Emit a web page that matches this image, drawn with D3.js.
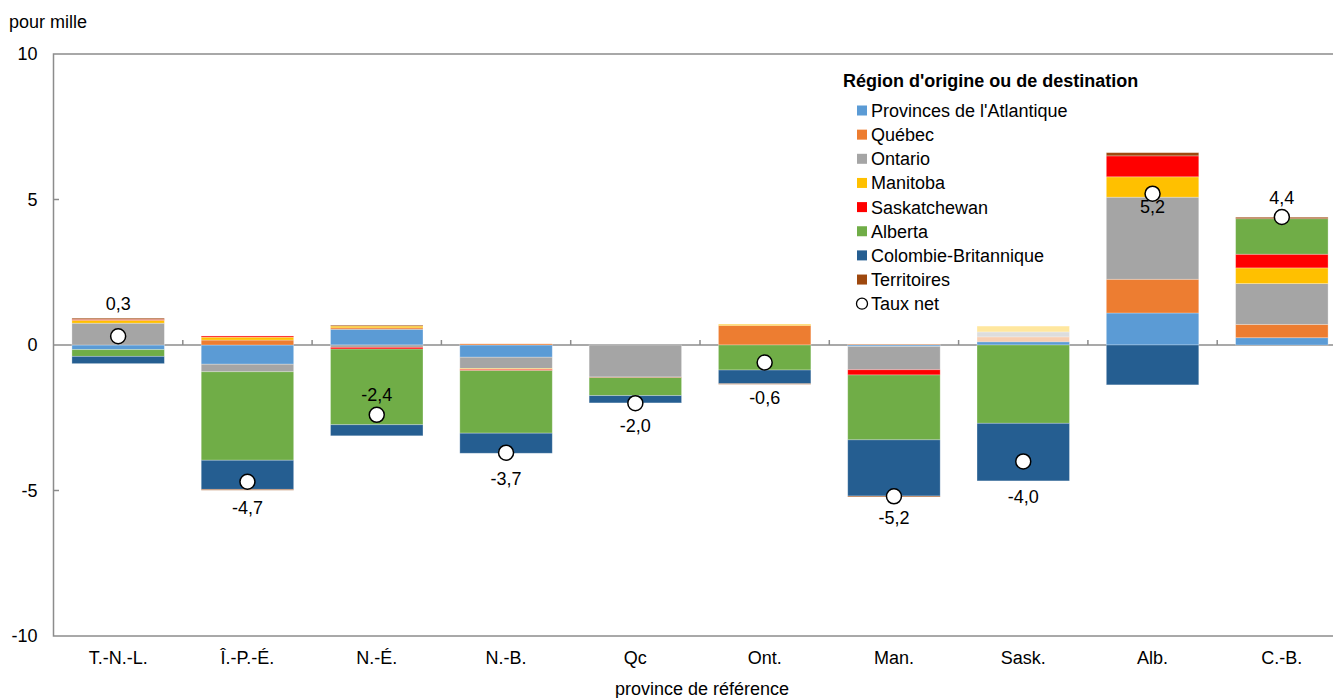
<!DOCTYPE html>
<html lang="fr">
<head>
<meta charset="utf-8">
<script src="https://cdn.jsdelivr.net/npm/d3@7"></script>
<style>
  html, body { margin: 0; padding: 0; background: #fff; }
  svg { display: block; font-family: "Liberation Sans", Arial, sans-serif; }
</style>
</head>
<body>
<svg id="chart" width="1333" height="698"></svg>
<script>
// Provinces de référence
const categories = ["T.-N.-L.", "Î.-P.-É.", "N.-É.", "N.-B.", "Qc", "Ont.", "Man.", "Sask.", "Alb.", "C.-B."];

// Région d'origine ou de destination (pour mille)
const seriesNames = ["Provinces de l'Atlantique", "Québec", "Ontario", "Manitoba", "Saskatchewan", "Alberta", "Colombie-Britannique", "Territoires"];
const atlantique   = [-0.16, -0.66,  0.54, -0.42,  0.00,  0.00, -0.05,  0.11,  1.10, 0.25];
const quebec       = [ 0.00,  0.17,  0.05,  0.04,  0.00,  0.67,  0.02,  0.17,  1.16, 0.46];
const ontario      = [ 0.75, -0.26, -0.08, -0.39, -1.10,  0.00, -0.80,  0.17,  2.82, 1.40];
const manitoba     = [ 0.10,  0.10,  0.06, -0.03,  0.00,  0.04,  0.00,  0.20,  0.70, 0.54];
const saskatchewan = [ 0.03,  0.04, -0.06, -0.04, -0.02,  0.00, -0.18,  0.00,  0.72, 0.47];
const alberta      = [-0.23, -3.04, -2.60, -2.15, -0.62, -0.86, -2.23, -2.69,  0.00, 1.22];
const colombieBrit = [-0.25, -1.00, -0.38, -0.69, -0.25, -0.47, -1.93, -1.98, -1.37, 0.00];
const territoires  = [ 0.04, -0.03,  0.03,  0.00,  0.00, -0.02, -0.03,  0.00,  0.11, 0.05];

// Taux net de migration interprovinciale
const tauxNet = [0.3, -4.7, -2.4, -3.7, -2.0, -0.6, -5.2, -4.0, 5.2, 4.4];

const yTicks = [-10, -5, 0, 5, 10];

const seriesValues = [atlantique, quebec, ontario, manitoba, saskatchewan, alberta, colombieBrit, territoires];
const colors = ["#5b9bd5", "#ed7d31", "#a5a5a5", "#ffc000", "#ff0000", "#70ad47", "#255e91", "#9e480e"];

// Flows into Saskatchewan shown in pale tints
const paleCells = new Set(["Sask.|Québec", "Sask.|Ontario", "Sask.|Manitoba"]);

const rows = categories.map((c, i) => {
  const r = { cat: c };
  seriesNames.forEach((s, j) => { r[s] = seriesValues[j][i]; });
  return r;
});

const svg = d3.select("#chart");
const fmt = v => d3.format(".1f")(v).replace(".", ",").replace("−", "-");

const x = d3.scaleBand().domain(categories).range([53.5, 1346.5]).paddingInner(0.285).paddingOuter(0.1425);
const y = d3.scaleLinear().domain([-10, 10]).range([636, 54]);

const axisColor = "#8c8c8c";
const fs = 18;

// Plot frame
svg.append("rect")
  .attr("x", 53.5).attr("y", y(10))
  .attr("width", 1346.5 - 53.5).attr("height", y(-10) - y(10))
  .attr("fill", "none").attr("stroke", axisColor).attr("stroke-width", 1.5);

// Y axis labels and inner ticks
const yAxis = d3.axisLeft(y).tickValues(yTicks).tickSize(0).tickPadding(16)
  .tickFormat(d => String(d));
const gy = svg.append("g").attr("transform", "translate(53.5,0)").call(yAxis);
gy.select(".domain").remove();
gy.selectAll("text").attr("font-size", fs).attr("fill", "#000").attr("font-family", "Liberation Sans, Arial, sans-serif");
svg.append("g").selectAll("line").data(yTicks.filter(d => d !== 10 && d !== -10 && d !== 0)).join("line")
  .attr("x1", 53.5).attr("x2", 59).attr("y1", d => y(d)).attr("y2", d => y(d))
  .attr("stroke", axisColor).attr("stroke-width", 1.5);

// Zero line with category separators
svg.append("line").attr("x1", 53.5).attr("x2", 1346.5).attr("y1", y(0)).attr("y2", y(0))
  .attr("stroke", axisColor).attr("stroke-width", 1.5);
const step = x.step();
svg.append("g").selectAll("line").data(d3.range(1, categories.length)).join("line")
  .attr("x1", k => 53.5 + k * step).attr("x2", k => 53.5 + k * step)
  .attr("y1", y(0)).attr("y2", y(0) - 5)
  .attr("stroke", axisColor).attr("stroke-width", 1.5);

// Stacked bars (diverging)
const stack = d3.stack().keys(seriesNames).offset(d3.stackOffsetDiverging);
const stacked = stack(rows);

svg.append("g").selectAll("g").data(stacked).join("g")
  .attr("fill", (d, i) => colors[i])
  .selectAll("rect").data(d => d.map(p => ({ p, key: d.key }))).join("rect")
  .attr("x", d => x(d.p.data.cat))
  .attr("width", x.bandwidth())
  .attr("y", d => y(Math.max(d.p[0], d.p[1])))
  .attr("height", d => Math.abs(y(d.p[0]) - y(d.p[1])))
  .attr("fill-opacity", d => paleCells.has(d.p.data.cat + "|" + d.key) ? 0.38 : 1)
  .attr("stroke", "#ffffff").attr("stroke-opacity", 0.35).attr("stroke-width", 0.8);

// Net rate markers
svg.append("g").selectAll("circle").data(tauxNet).join("circle")
  .attr("cx", (d, i) => x(categories[i]) + x.bandwidth() / 2)
  .attr("cy", d => y(d))
  .attr("r", 7.5)
  .attr("fill", "#fff").attr("stroke", "#000").attr("stroke-width", 1.5);

// Value labels, offset from each marker
const labelShift = [-33, 26, -20, 26, 22, 35, 21, 35, 13, -19];
svg.append("g").selectAll("text").data(tauxNet).join("text")
  .attr("x", (d, i) => x(categories[i]) + x.bandwidth() / 2)
  .attr("y", (d, i) => y(d) + labelShift[i])
  .attr("dy", "0.36em")
  .attr("text-anchor", "middle")
  .attr("font-size", fs)
  .text(d => fmt(d));

// Category labels
svg.append("g").selectAll("text").data(categories).join("text")
  .attr("x", d => x(d) + x.bandwidth() / 2)
  .attr("y", 658).attr("dy", "0.36em")
  .attr("text-anchor", "middle").attr("font-size", fs)
  .text(d => d);

// Axis titles
svg.append("text").attr("x", 9).attr("y", 22).attr("dy", "0.36em")
  .attr("font-size", fs).text("pour mille");
svg.append("text").attr("x", 702).attr("y", 689).attr("dy", "0.36em")
  .attr("text-anchor", "middle").attr("font-size", fs).text("province de référence");

// Legend
const lg = svg.append("g");
lg.append("text").attr("x", 843).attr("y", 81).attr("dy", "0.36em")
  .attr("font-size", fs).attr("font-weight", "bold").text("Région d'origine ou de destination");
const legendItems = seriesNames.map((s, i) => ({ label: s, color: colors[i] }));
const rowY = i => 110.5 + i * 24.15;
lg.selectAll("rect").data(legendItems).join("rect")
  .attr("x", 857).attr("y", (d, i) => rowY(i) - 5).attr("width", 10).attr("height", 10)
  .attr("fill", d => d.color);
lg.selectAll("text.item").data(legendItems.map(d => d.label).concat(["Taux net"])).join("text")
  .attr("class", "item")
  .attr("x", 871).attr("y", (d, i) => rowY(i)).attr("dy", "0.36em")
  .attr("font-size", fs).text(d => d);
lg.append("circle").attr("cx", 862).attr("cy", rowY(8)).attr("r", 5.5)
  .attr("fill", "#fff").attr("stroke", "#000").attr("stroke-width", 1.3);
</script>
</body>
</html>
